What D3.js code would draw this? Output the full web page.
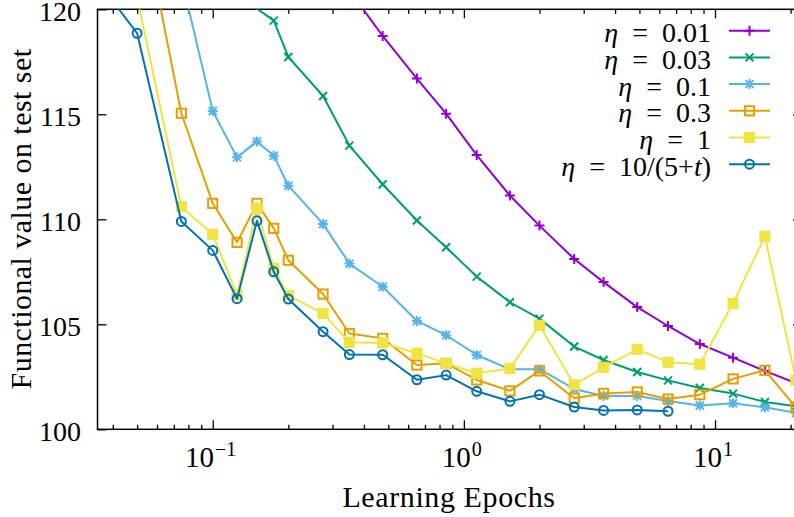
<!DOCTYPE html>
<html>
<head>
<meta charset="utf-8">
<script src="https://cdn.jsdelivr.net/npm/d3@7"></script>
<style>
  html, body { margin: 0; padding: 0; background: #fff; }
  svg { display: block; }
</style>
</head>
<body>
<svg id="chart" width="794" height="517"></svg>
<script>
// Sampling points (learning epochs) shared by every run
const epochs = [0.025, 0.05, 0.075, 0.1, 0.125, 0.15, 0.175, 0.2, 0.275, 0.35, 0.475, 0.65,
                0.85, 1.125, 1.525, 2.0, 2.75, 3.6, 4.9, 6.5, 8.7, 11.8, 15.8, 21];

// Functional value on the test set for each step-size schedule (null = not sampled)
const eta001 = [null, null, null, null, null, null, null, null, null, 120.9, 118.73, 116.7,
                115.03, 113.06, 111.13, 109.7, 108.11, 107.01, 105.82, 104.92, 104.06, 103.41, 102.78, 102.2];
const eta003 = [null, null, null, null, 122.0, 120.03, 119.46, 117.73, 115.87, 113.51, 111.67, 109.94,
                108.67, 107.27, 106.05, 105.27, 103.94, 103.3, 102.73, 102.33, 101.97, 101.7, 101.3, 101.1];
const eta01  = [null, null, 121.5, 115.16, 112.95, 113.71, 113.03, 111.6, 109.78, 107.89, 106.79, 105.16,
                104.48, 103.54, 102.86, 102.86, 101.92, 101.59, 101.59, 101.35, 101.13, 101.24, 101.05, 100.78];
const eta03  = [null, 125.7, 115.05, 110.76, 108.9, 110.76, 109.57, 108.05, 106.44, 104.56, 104.33, 103.06,
                103.14, 102.35, 101.83, 102.78, 101.48, 101.71, 101.78, 101.44, 101.65, 102.4, 102.81, 101.05];
const eta1   = [null, 120.57, 110.6, 109.29, 106.4, 110.5, 107.67, 106.37, 105.52, 104.14, 104.11, 103.62,
                103.14, 102.67, 102.9, 104.95, 102.12, 102.95, 103.81, 103.19, 103.1, 106.0, 109.19, 102.35];
const etaDecay = [123.6, 118.86, 109.9, 108.52, 106.22, 109.93, 107.5, 106.2, 104.65, 103.56, 103.55, 102.36,
                  102.58, 101.81, 101.33, 101.65, 101.06, 100.9, 100.92, 100.86, null, null, null, null];

const seriesNames = ["0.01", "0.03", "0.1", "0.3", "1", "decay"];
const seriesValues = [eta001, eta003, eta01, eta03, eta1, etaDecay];
const seriesColors = ["#9400d3", "#009e73", "#56b4e9", "#e69f00", "#f0e442", "#0072b2"];
const seriesMarkers = ["plus", "cross", "star", "square", "squareFilled", "circle"];

const yTicks = [100, 105, 110, 115, 120];
const xMajorTicks = [0.1, 1, 10];
const xMajorExp = ["\u22121", "0", "1"];

(function draw() {
  const FONT = "'Liberation Serif', 'DejaVu Serif', serif";
  const svg = d3.select("#chart").attr("font-family", FONT);
  const pl = 97.5, pr = 802, pt = 9.3, pb = 429.3;

  const x = d3.scaleLog().domain([0.03477, 22.2]).range([pl, pr]);
  const y = d3.scaleLinear().domain([100, 120]).range([pb, pt]);

  svg.append("defs").append("clipPath").attr("id", "plotClip")
    .append("rect").attr("x", pl).attr("y", pt)
    .attr("width", pr - pl).attr("height", pb - pt);

  // Minor ticks at 2..9 x 10^k inside the domain
  const minorTicks = [];
  for (let e = -2; e <= 1; e++) {
    for (let m = 2; m <= 9; m++) {
      const v = m * Math.pow(10, e);
      if (v > x.domain()[0] && v < x.domain()[1]) minorTicks.push(v);
    }
  }

  function styleAxis(g) {
    g.select(".domain").remove();
    g.selectAll("line").attr("stroke", "#000").attr("stroke-width", 1.3);
  }

  // Inward-pointing ticks on all four sides
  svg.append("g").attr("transform", `translate(0,${pb})`)
    .call(d3.axisBottom(x).tickValues(xMajorTicks).tickSize(-9).tickFormat(""))
    .call(styleAxis);
  svg.append("g").attr("transform", `translate(0,${pb})`)
    .call(d3.axisBottom(x).tickValues(minorTicks).tickSize(-4.5).tickFormat(""))
    .call(styleAxis);
  svg.append("g").attr("transform", `translate(0,${pt})`)
    .call(d3.axisTop(x).tickValues(xMajorTicks).tickSize(-9).tickFormat(""))
    .call(styleAxis);
  svg.append("g").attr("transform", `translate(0,${pt})`)
    .call(d3.axisTop(x).tickValues(minorTicks).tickSize(-4.5).tickFormat(""))
    .call(styleAxis);
  svg.append("g").attr("transform", `translate(${pl},0)`)
    .call(d3.axisLeft(y).tickValues(yTicks).tickSize(-9).tickFormat(""))
    .call(styleAxis);
  svg.append("g").attr("transform", `translate(${pr},0)`)
    .call(d3.axisRight(y).tickValues(yTicks).tickSize(-9).tickFormat(""))
    .call(styleAxis);

  // Frame
  svg.append("rect").attr("x", pl).attr("y", pt)
    .attr("width", pr - pl).attr("height", pb - pt)
    .attr("fill", "none").attr("stroke", "#000").attr("stroke-width", 1.5);

  const txt = sel => sel.attr("font-family", FONT).attr("fill", "#000");

  // Y tick labels
  svg.append("g").selectAll("text").data(yTicks).join("text")
    .call(txt)
    .attr("x", 81).attr("y", d => y(d) + 11.8)
    .attr("text-anchor", "end").attr("font-size", 28)
    .text(d => d);

  // X tick labels 10^k
  const xl = svg.append("g").selectAll("text").data(xMajorTicks).join("text")
    .call(txt)
    .attr("x", d => x(d) - 2).attr("y", 467)
    .attr("text-anchor", "middle").attr("font-size", 29);
  xl.append("tspan").text("10");
  xl.append("tspan").attr("dy", -11).attr("font-size", 20).attr("dx", 1)
    .text((d, i) => xMajorExp[i]);

  // Axis titles
  svg.append("text").call(txt).attr("x", 449).attr("y", 507)
    .attr("text-anchor", "middle").attr("font-size", 30).attr("letter-spacing", 0.6)
    .text("Learning Epochs");
  svg.append("text").call(txt).attr("transform", "translate(31,219) rotate(-90)")
    .attr("text-anchor", "middle").attr("font-size", 30).attr("letter-spacing", 0.45)
    .text("Functional value on test set");

  // Marker shapes
  function drawMarker(g, type, color, s) {
    const p = d3.path();
    if (type === "plus" || type === "star") {
      p.moveTo(-s, 0); p.lineTo(s, 0); p.moveTo(0, -s); p.lineTo(0, s);
    }
    if (type === "cross" || type === "star") {
      const c = s * 0.8;
      p.moveTo(-c, -c); p.lineTo(c, c); p.moveTo(-c, c); p.lineTo(c, -c);
    }
    if (p.toString()) {
      g.append("path").attr("d", p.toString()).attr("stroke", color)
        .attr("stroke-width", 2).attr("fill", "none");
    }
    if (type === "square" || type === "squareFilled") {
      const h = 4.6;
      g.append("rect").attr("x", -h).attr("y", -h).attr("width", 2 * h).attr("height", 2 * h)
        .attr("fill", type === "squareFilled" ? color : "none")
        .attr("stroke", color).attr("stroke-width", 2);
    }
    if (type === "circle") {
      g.append("circle").attr("r", 4.5).attr("fill", "none")
        .attr("stroke", color).attr("stroke-width", 2);
    }
  }

  // Series lines and markers
  const plot = svg.append("g").attr("clip-path", "url(#plotClip)");
  const line = d3.line().defined(d => d.v !== null).x(d => x(d.t)).y(d => y(d.v));

  seriesValues.forEach((vals, i) => {
    const pts = epochs.map((t, j) => ({ t, v: vals[j] }));
    const g = plot.append("g");
    g.append("path").datum(pts).attr("d", line)
      .attr("fill", "none").attr("stroke", seriesColors[i])
      .attr("stroke-width", 2).attr("stroke-linejoin", "round");
    pts.filter(d => d.v !== null && d.v <= 120).forEach(d => {
      const m = g.append("g").attr("transform", `translate(${x(d.t)},${y(d.v)})`);
      drawMarker(m, seriesMarkers[i], seriesColors[i], 5);
    });
  });

  // Legend
  const legend = svg.append("g");
  seriesNames.forEach((name, i) => {
    const ly = 30.7 + 26.7 * i;
    legend.append("line").attr("x1", 729).attr("x2", 770).attr("y1", ly).attr("y2", ly)
      .attr("stroke", seriesColors[i]).attr("stroke-width", 2);
    const m = legend.append("g").attr("transform", `translate(749.5,${ly})`);
    drawMarker(m, seriesMarkers[i], seriesColors[i], 5);

    const label = name === "decay" ? "10/(5+t)" : name;
    const t = legend.append("text").call(txt).attr("x", 711).attr("y", ly + 11.5)
      .attr("text-anchor", "end").attr("font-size", 28);
    t.append("tspan").attr("font-style", "italic").text("\u03b7");
    t.append("tspan").text("\u2002=\u2002" + label.replace("t)", ""));
    if (name === "decay") {
      t.append("tspan").attr("font-style", "italic").text("t");
      t.append("tspan").text(")");
    }
  });
})();
</script>
</body>
</html>
